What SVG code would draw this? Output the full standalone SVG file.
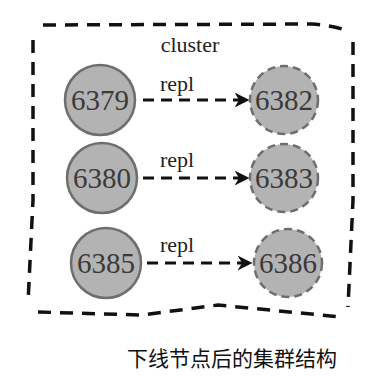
<svg xmlns="http://www.w3.org/2000/svg" width="389" height="386" viewBox="0 0 389 386">
<style>
.bg{fill:#ffffff}
.border{fill:none;stroke:#111;stroke-width:3.5;stroke-dasharray:13 9}
.master{fill:#b3b3b3;stroke:#6e6e6e;stroke-width:2.5}
.slave{fill:#b3b3b3;stroke:#6e6e6e;stroke-width:2.5;stroke-dasharray:8 5}
.num{font-size:29px;fill:#3a3a3a;text-anchor:middle}
.lbl{font-size:22px;fill:#222;text-anchor:middle}
.edge{fill:none;stroke:#111;stroke-width:3;stroke-dasharray:11 7}
.cap{font-size:21px;fill:#111;text-anchor:middle}
</style>
<defs>
<marker id="ah" viewBox="0 0 10 10" refX="9" refY="5" markerWidth="5" markerHeight="5" orient="auto" markerUnits="strokeWidth">
<path d="M0,0 L10,5 L0,10 L3,5 Z" fill="#111"/>
</marker>
</defs>
<rect class="bg" x="0" y="0" width="389" height="386"/>
<g id="cluster">
<path class="border" d="M43,25 L312,24 Q330,25 345,30"/>
<path class="border" d="M353,42 L353,200 L348,307"/>
<path class="border" d="M33,40 L33,200 L28,303"/>
<path class="border" d="M38,312 L142,315 L218,305 L342,317"/>
<text class="lbl" font-family="Liberation Serif, DejaVu Serif, serif" x="190" y="52">cluster</text>
</g>
<g id="connectors" font-family="Liberation Serif, DejaVu Serif, serif">
<line class="edge" x1="143" y1="100" x2="248" y2="100" marker-end="url(#ah)"/>
<line class="edge" x1="143" y1="178" x2="248" y2="178" marker-end="url(#ah)"/>
<line class="edge" x1="147" y1="263" x2="251" y2="263" marker-end="url(#ah)"/>
<text class="lbl" x="177" y="91">repl</text>
<text class="lbl" x="177" y="167">repl</text>
<text class="lbl" x="177" y="252">repl</text>
</g>
<g font-family="Liberation Serif, DejaVu Serif, serif">
<g id="n6379"><circle class="master" cx="100" cy="100" r="35"/><text class="num" x="100" y="110">6379</text></g>
<g id="n6382"><circle class="slave" cx="284" cy="100" r="34"/><text class="num" x="284" y="110">6382</text></g>
<g id="n6380"><circle class="master" cx="102" cy="178" r="35"/><text class="num" x="102" y="188">6380</text></g>
<g id="n6383"><circle class="slave" cx="284" cy="178" r="34"/><text class="num" x="284" y="188">6383</text></g>
<g id="n6385"><circle class="master" cx="106" cy="263" r="35"/><text class="num" x="106" y="273">6385</text></g>
<g id="n6386"><circle class="slave" cx="288" cy="263" r="34"/><text class="num" x="288" y="273">6386</text></g>
</g>
<text class="cap" font-family="Liberation Sans, Noto Sans CJK SC, sans-serif" x="232" y="366">下线节点后的集群结构</text>
</svg>
